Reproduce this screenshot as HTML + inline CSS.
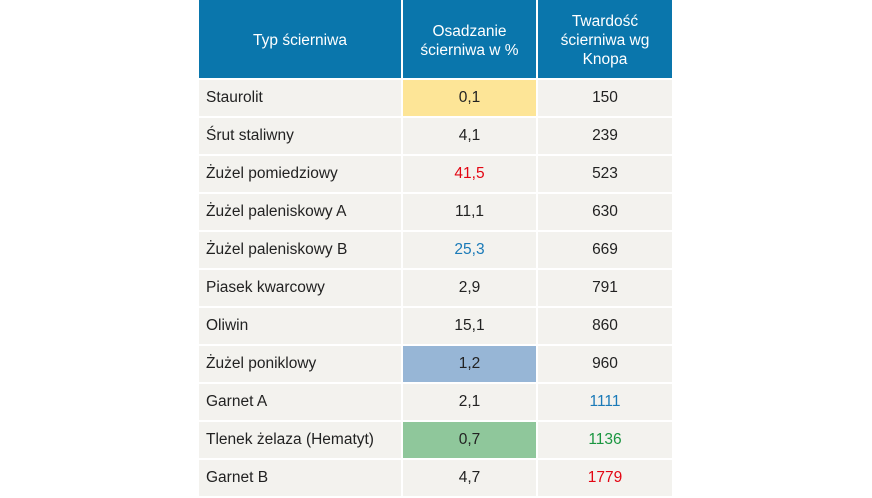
<!DOCTYPE html>
<html><head><meta charset="utf-8"><style>
body{margin:0;width:872px;height:498px;background:#fff;font-family:"Liberation Sans","DejaVu Sans",sans-serif;position:relative;overflow:hidden}
.c{position:absolute;display:flex;align-items:center;box-sizing:border-box;font-size:15.5px;color:#222;background:#f3f2ee}
.h{background:#0a76ac;color:#fff;justify-content:center;text-align:center;line-height:19px;font-size:15.5px;padding-top:3px}
.l{padding-left:7px}
.m{justify-content:center}
</style></head><body>
<div class="c h" style="left:199px;top:0;width:202px;height:78px">Typ ścierniwa</div>
<div class="c h" style="left:403px;top:0;width:133px;height:78px">Osadzanie<br>ścierniwa w %</div>
<div class="c h" style="left:538px;top:0;width:134px;height:78px">Twardość<br>ścierniwa wg<br>Knopa</div>
<div id="rows"></div>
<script>
var d=[["Staurolit","0,1","150","#fde597","",""],["Śrut staliwny","4,1","239","","",""],["Żużel pomiedziowy","41,5","523","","#e30613",""],["Żużel paleniskowy A","11,1","630","","",""],["Żużel paleniskowy B","25,3","669","","#1a7ab8",""],["Piasek kwarcowy","2,9","791","","",""],["Oliwin","15,1","860","","",""],["Żużel poniklowy","1,2","960","#97b6d6","",""],["Garnet A","2,1","1111","","","#1a7ab8"],["Tlenek żelaza (Hematyt)","0,7","1136","#8fc79b","","#1a9640"],["Garnet B","4,7","1779","","","#e30613"]];
var h="";d.forEach(function(r,i){var t=80+i*38;
h+='<div class="c l" style="left:199px;top:'+t+'px;width:202px;height:36px">'+r[0]+'</div>';
h+='<div class="c m" style="left:403px;top:'+t+'px;width:133px;height:36px;'+(r[3]?'background:'+r[3]+';':'')+(r[4]?'color:'+r[4]:'')+'">'+r[1]+'</div>';
h+='<div class="c m" style="left:538px;top:'+t+'px;width:134px;height:36px;'+(r[5]?'color:'+r[5]:'')+'">'+r[2]+'</div>';});
document.getElementById("rows").innerHTML=h;
</script>
</body></html>
